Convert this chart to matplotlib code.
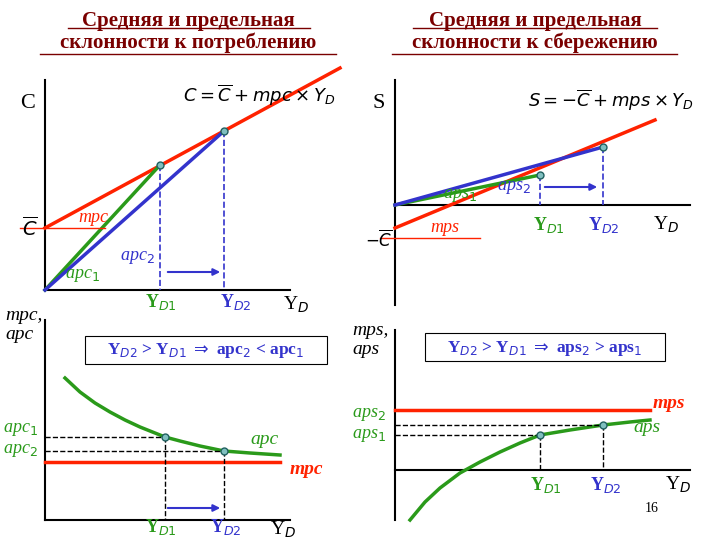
import matplotlib
matplotlib.use("Agg")
import matplotlib.pyplot as plt
import numpy as np

# --- data (pixel-space diagram coordinates) ---
c_origin = (45, 290)
c_red_x = [45, 340]; c_red_y = [228, 68]
c_pt1 = (160, 165); c_pt2 = (224, 131)
apc_x = [65, 80, 95, 110, 125, 140, 155, 165, 180, 200, 224, 250, 280]
apc_y = [378, 392, 403, 412, 420, 427, 433, 437, 441, 446, 451, 453, 455]
mpc_y = 462
s_origin = (395, 205)
s_red_x = [395, 655]; s_red_y = [228, 120]
s_pt1 = (540, 175); s_pt2 = (603, 147)
aps_x = [410, 425, 440, 460, 480, 500, 520, 540, 570, 603, 630, 650]
aps_y = [520, 502, 488, 473, 462, 452, 443, 435, 430, 425, 422, 420]
mps_y = 410

fig = plt.figure(figsize=(7.2, 5.4), dpi=100)
ax = fig.add_axes([0, 0, 1, 1])
ax.set_xlim(0, 720); ax.set_ylim(540, 0); ax.axis('off')
RED = '#ff2200'; GRN = '#2a9a1a'; BLU = '#3333cc'; TIT = '#7a0000'
serif = 'Liberation Serif'

def pt(x, y):
    ax.plot(x, y, 'o', ms=5, mfc='#7fbfbf', mec='#206060', zorder=5)

for cx, t in [(188, "Средняя и предельная\nсклонности к потреблению"),
              (535, "Средняя и предельная\nсклонности к сбережению")]:
    ax.text(cx, 32, t, ha='center', va='center', fontsize=15, color=TIT,
            family=serif, fontweight='bold', linespacing=1.15)
ax.plot([68, 310], [28, 28], color=TIT, lw=1); ax.plot([40, 336], [54, 54], color=TIT, lw=1)
ax.plot([413, 657], [28, 28], color=TIT, lw=1); ax.plot([392, 677], [54, 54], color=TIT, lw=1)

# ---- top-left ----
ax.plot([45, 45], [290, 80], color='k', lw=1.5)
ax.plot([45, 290], [290, 290], color='k', lw=1.5)
ax.plot(c_red_x, c_red_y, color=RED, lw=2.5)
ax.plot([c_origin[0], c_pt1[0]], [c_origin[1], c_pt1[1]], color=GRN, lw=2.5)
ax.plot([c_origin[0], c_pt2[0]], [c_origin[1], c_pt2[1]], color=BLU, lw=2.5)
ax.plot([20, 105], [228, 228], color=RED, lw=1)
for p in (c_pt1, c_pt2):
    ax.plot([p[0], p[0]], [p[1], 290], color=BLU, lw=1.2, ls='--'); pt(*p)
ax.annotate('', xy=(223, 272), xytext=(165, 272), arrowprops=dict(arrowstyle='-|>', color=BLU, lw=1.5))
ax.text(20, 103, 'C', fontsize=16, family=serif, va='center')
ax.text(183, 95, r'$C=\overline{C}+mpc\times Y_D$', fontsize=13, va='center')
ax.text(22, 228, r'$\overline{C}$', fontsize=14, va='center')
ax.text(78, 218, 'mpc', fontsize=13, family=serif, style='italic', color=RED, va='center')
ax.text(120, 258, 'apc$_2$', fontsize=13, family=serif, style='italic', color=BLU, va='center')
ax.text(65, 275, 'apc$_1$', fontsize=13, family=serif, style='italic', color=GRN, va='center')
ax.text(145, 302, 'Y$_{D1}$', fontsize=13, family=serif, color=GRN, fontweight='bold', va='center')
ax.text(220, 302, 'Y$_{D2}$', fontsize=13, family=serif, color=BLU, fontweight='bold', va='center')
ax.text(283, 305, 'Y$_D$', fontsize=14, family=serif, va='center')

# ---- bottom-left ----
ax.plot([45, 45], [520, 320], color='k', lw=1.5)
ax.plot([45, 290], [520, 520], color='k', lw=1.5)
ax.plot([45, 280], [mpc_y, mpc_y], color=RED, lw=2.5)
ax.plot(apc_x, apc_y, color=GRN, lw=2.5)
for i in (7, 10):
    x, y = apc_x[i], apc_y[i]
    ax.plot([x, x], [y, 520], color='k', lw=1, ls='--')
    ax.plot([45, x], [y, y], color='k', lw=1, ls='--'); pt(x, y)
ax.annotate('', xy=(223, 508), xytext=(165, 508), arrowprops=dict(arrowstyle='-|>', color=BLU, lw=1.5))
ax.text(5, 325, 'mpc,\napc', fontsize=14, family=serif, style='italic', va='center')
ax.add_patch(plt.Rectangle((85, 336), 242, 28, fill=False, lw=0.8))
ax.text(206, 351, r'Y$_{D2}$ > Y$_{D1}$ $\Rightarrow$ apc$_2$ < apc$_1$', fontsize=12.5,
        family=serif, color=BLU, fontweight='bold', ha='center', va='center')
ax.text(3, 440, 'apc$_1$\napc$_2$', fontsize=13, family=serif, style='italic', color=GRN, va='center')
ax.text(250, 440, 'apc', fontsize=14, family=serif, style='italic', color=GRN, va='center')
ax.text(290, 470, 'mpc', fontsize=14, family=serif, style='italic', color=RED, va='center', fontweight='bold')
ax.text(145, 527, 'Y$_{D1}$', fontsize=13, family=serif, color=GRN, fontweight='bold', va='center')
ax.text(210, 527, 'Y$_{D2}$', fontsize=13, family=serif, color=BLU, fontweight='bold', va='center')
ax.text(270, 530, 'Y$_D$', fontsize=14, family=serif, va='center')

# ---- top-right ----
ax.plot([395, 395], [305, 80], color='k', lw=1.5)
ax.plot([395, 690], [205, 205], color='k', lw=1.5)
ax.plot(s_red_x, s_red_y, color=RED, lw=2.5)
ax.plot([s_origin[0], s_pt1[0]], [s_origin[1], s_pt1[1]], color=GRN, lw=2.5)
ax.plot([s_origin[0], s_pt2[0]], [s_origin[1], s_pt2[1]], color=BLU, lw=2.5)
ax.plot([380, 480], [238, 238], color=RED, lw=1)
for p in (s_pt1, s_pt2):
    ax.plot([p[0], p[0]], [p[1], 205], color=BLU, lw=1.2, ls='--'); pt(*p)
ax.annotate('', xy=(600, 187), xytext=(542, 187), arrowprops=dict(arrowstyle='-|>', color=BLU, lw=1.5))
ax.text(373, 103, 'S', fontsize=16, family=serif, va='center')
ax.text(528, 100, r'$S=-\overline{C}+mps\times Y_D$', fontsize=13, va='center')
ax.text(365, 240, r'$-\overline{C}$', fontsize=12, va='center')
ax.text(430, 228, 'mps', fontsize=13, family=serif, style='italic', color=RED, va='center')
ax.text(443, 196, 'aps$_1$', fontsize=13, family=serif, style='italic', color=GRN, va='center')
ax.text(497, 188, 'aps$_2$', fontsize=13, family=serif, style='italic', color=BLU, va='center')
ax.text(533, 225, 'Y$_{D1}$', fontsize=13, family=serif, color=GRN, fontweight='bold', va='center')
ax.text(588, 225, 'Y$_{D2}$', fontsize=13, family=serif, color=BLU, fontweight='bold', va='center')
ax.text(653, 225, 'Y$_D$', fontsize=14, family=serif, va='center')

# ---- bottom-right ----
ax.plot([395, 395], [520, 330], color='k', lw=1.5)
ax.plot([395, 690], [470, 470], color='k', lw=1.5)
ax.plot([395, 650], [mps_y, mps_y], color=RED, lw=2.5)
ax.plot(aps_x, aps_y, color=GRN, lw=2.5)
for i in (7, 9):
    x, y = aps_x[i], aps_y[i]
    ax.plot([x, x], [y, 470], color='k', lw=1, ls='--')
    ax.plot([395, x], [y, y], color='k', lw=1, ls='--'); pt(x, y)
ax.text(352, 340, 'mps,\naps', fontsize=14, family=serif, style='italic', va='center')
ax.add_patch(plt.Rectangle((425, 333), 240, 28, fill=False, lw=0.8))
ax.text(545, 348, r'Y$_{D2}$ > Y$_{D1}$ $\Rightarrow$ aps$_2$ > aps$_1$', fontsize=12.5,
        family=serif, color=BLU, fontweight='bold', ha='center', va='center')
ax.text(352, 425, 'aps$_2$\naps$_1$', fontsize=13, family=serif, style='italic', color=GRN, va='center')
ax.text(653, 403, 'mps', fontsize=14, family=serif, style='italic', color=RED, fontweight='bold', va='center')
ax.text(633, 428, 'aps', fontsize=14, family=serif, style='italic', color=GRN, va='center')
ax.text(530, 485, 'Y$_{D1}$', fontsize=13, family=serif, color=GRN, fontweight='bold', va='center')
ax.text(590, 485, 'Y$_{D2}$', fontsize=13, family=serif, color=BLU, fontweight='bold', va='center')
ax.text(665, 485, 'Y$_D$', fontsize=14, family=serif, va='center')
ax.text(645, 508, '16', fontsize=10, family=serif, va='center')

fig.savefig('out.png', dpi=100)
